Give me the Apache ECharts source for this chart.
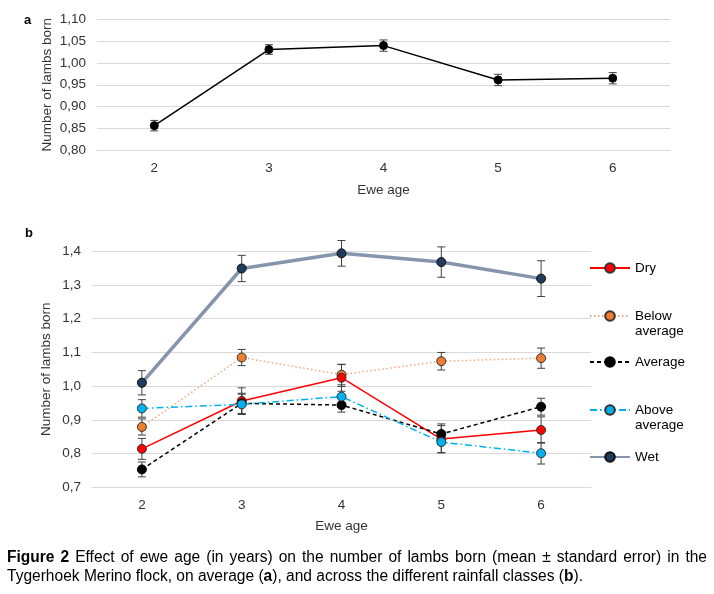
<!DOCTYPE html>
<html>
<head>
<meta charset="utf-8">
<script src="https://cdn.jsdelivr.net/npm/echarts@6/dist/echarts.min.js"></script>
<style>
html,body{margin:0;padding:0;background:#fff;}
#wrap{position:relative;width:714px;height:594px;overflow:hidden;}
#chart{position:absolute;left:0;top:0;width:714px;height:594px;}
.cap{position:absolute;left:7px;font-family:"Liberation Sans Narrow","Liberation Sans",Arial,sans-serif;font-size:16px;line-height:19px;color:#000;white-space:nowrap;transform-origin:0 0;}
#cap1{top:547px;width:700px;text-align:justify;text-align-last:justify;white-space:normal;}
#cap2{top:566px;}
</style>
</head>
<body>
<div id="wrap">
<div id="chart"></div>
<div class="cap" id="cap1"><b>Figure 2</b> Effect of ewe age (in years) on the number of lambs born (mean ± standard error) in the</div>
<div class="cap" id="cap2"><span id="cap2t">Tygerhoek Merino flock, on average (<b>a</b>), and across the different rainfall classes (<b>b</b>).</span></div>
</div>
<script>
// ---- data ----
const ages = ['2', '3', '4', '5', '6'];
const yTicksA = [0.80, 0.85, 0.90, 0.95, 1.00, 1.05, 1.10];
const yTicksB = [0.7, 0.8, 0.9, 1.0, 1.1, 1.2, 1.3, 1.4];

const overallMean = [0.856, 1.031, 1.040, 0.961, 0.965];
const overallErr  = [0.012, 0.011, 0.013, 0.013, 0.013];

const dryMean = [0.814, 0.956, 1.025, 0.843, 0.870];
const dryErr  = [0.031, 0.039, 0.040, 0.040, 0.039];
const belowMean = [0.879, 1.085, 1.034, 1.074, 1.083];
const belowErr  = [0.024, 0.024, 0.030, 0.026, 0.030];
const averageMean = [0.753, 0.949, 0.944, 0.858, 0.939];
const averageErr  = [0.022, 0.030, 0.021, 0.030, 0.025];
const aboveMean = [0.934, 0.946, 0.969, 0.834, 0.801];
const aboveErr  = [0.026, 0.030, 0.030, 0.032, 0.032];
const wetMean = [1.010, 1.349, 1.394, 1.368, 1.319];
const wetErr  = [0.036, 0.039, 0.038, 0.045, 0.053];

const seriesNames = ['Dry', 'Below\naverage', 'Average', 'Above\naverage', 'Wet'];

// ---- caption fit (layout only) ----
(function fitCaption() {
  const target = 576; // width of second caption line
  const w = document.getElementById('cap2t').getBoundingClientRect().width;
  const s = target / w;
  const c1 = document.getElementById('cap1');
  const c2 = document.getElementById('cap2');
  c1.style.width = (700 / s) + 'px';
  c1.style.transform = 'scaleX(' + s + ')';
  c2.style.transform = 'scaleX(' + s + ')';
})();

// ---- helpers ----
const FONT = '"Liberation Sans", Arial, sans-serif';
const TXT = '#333333';
function errData(mean, err) {
  return mean.map((m, i) => [i, m - err[i], m + err[i]]);
}
function errRender(params, api) {
  const x = api.value(0);
  const p1 = api.coord([x, api.value(1)]);
  const p2 = api.coord([x, api.value(2)]);
  const w = 4;
  const style = { stroke: '#404040', lineWidth: 1 };
  return {
    type: 'group',
    children: [
      { type: 'line', shape: { x1: p1[0], y1: p1[1], x2: p2[0], y2: p2[1] }, style: style },
      { type: 'line', shape: { x1: p1[0] - w, y1: p1[1], x2: p1[0] + w, y2: p1[1] }, style: style },
      { type: 'line', shape: { x1: p2[0] - w, y1: p2[1], x2: p2[0] + w, y2: p2[1] }, style: style }
    ]
  };
}
function errSeries(mean, err, idx) {
  return {
    type: 'custom', xAxisIndex: idx, yAxisIndex: idx,
    renderItem: errRender, data: errData(mean, err),
    encode: { x: 0, y: [1, 2] }, z: 2, silent: true
  };
}
function lineSeries(name, data, lineColor, lineWidth, lineType, fill, border) {
  return {
    name: name, type: 'line', xAxisIndex: 1, yAxisIndex: 1, data: data,
    symbol: 'circle', symbolSize: 9, z: 3,
    lineStyle: { color: lineColor, width: lineWidth, type: lineType },
    itemStyle: { color: fill, borderColor: border, borderWidth: 1 },
    emphasis: { disabled: true }
  };
}
function legendAt(name, top, twoLine) {
  return {
    data: [name], left: 589, top: top, padding: 0,
    itemWidth: 40, itemHeight: 12, itemGap: 0,
    selectedMode: false,
    formatter: twoLine ? (n => '\n' + n) : (n => n),
    textStyle: { fontFamily: FONT, fontSize: 13.5, color: '#000', lineHeight: 15 }
  };
}
const catAxis = (idx) => ({
  type: 'category', gridIndex: idx, data: ages, boundaryGap: true,
  name: 'Ewe age', nameLocation: 'middle', nameGap: idx === 0 ? 33 : 32,
  nameMoveOverlap: false,
  nameTextStyle: { fontFamily: FONT, fontSize: 13.5, color: TXT, verticalAlign: 'top' },
  axisLine: { show: true, lineStyle: { color: '#d9d9d9', width: 1 } },
  axisTick: { show: false },
  axisLabel: { fontFamily: FONT, fontSize: 13.5, color: TXT, margin: 11 },
  splitLine: { show: false }
});

const chart = echarts.init(document.getElementById('chart'));
chart.setOption({
  animation: false,
  backgroundColor: '#fff',
  title: [
    { text: 'a', left: 19, top: 9, textStyle: { fontFamily: FONT, fontSize: 13, fontWeight: 'bold', color: '#000' } },
    { text: 'b', left: 20, top: 222, textStyle: { fontFamily: FONT, fontSize: 13, fontWeight: 'bold', color: '#000' } }
  ],
  grid: [
    { left: 97, right: 44, top: 19.5, height: 130.5 },
    { left: 92, right: 123, top: 251.3, height: 236 }
  ],
  xAxis: [catAxis(0), catAxis(1)],
  yAxis: [
    {
      type: 'value', gridIndex: 0, min: yTicksA[0], max: yTicksA[yTicksA.length - 1], interval: 0.05,
      name: 'Number of lambs born', nameLocation: 'middle', nameGap: 43, nameRotate: 90,
      nameMoveOverlap: false,
      nameTextStyle: { fontFamily: FONT, fontSize: 13.5, color: TXT },
      axisLine: { show: false }, axisTick: { show: false },
      axisLabel: { fontFamily: FONT, fontSize: 13.5, color: TXT, margin: 11,
        formatter: v => v.toFixed(2).replace('.', ',') },
      splitLine: { lineStyle: { color: '#d9d9d9', width: 1 } }
    },
    {
      type: 'value', gridIndex: 1, min: yTicksB[0], max: yTicksB[yTicksB.length - 1], interval: 0.1,
      name: 'Number of lambs born', nameLocation: 'middle', nameGap: 39, nameRotate: 90,
      nameMoveOverlap: false,
      nameTextStyle: { fontFamily: FONT, fontSize: 13.5, color: TXT },
      axisLine: { show: false }, axisTick: { show: false },
      axisLabel: { fontFamily: FONT, fontSize: 13.5, color: TXT, margin: 11,
        formatter: v => v.toFixed(1).replace('.', ',') },
      splitLine: { lineStyle: { color: '#d9d9d9', width: 1 } }
    }
  ],
  legend: [
    legendAt(seriesNames[0], 260.5, false),
    legendAt(seriesNames[1], 293.5, true),
    legendAt(seriesNames[2], 354.5, false),
    legendAt(seriesNames[3], 387.5, true),
    legendAt(seriesNames[4], 449.5, false)
  ],
  series: [
    errSeries(overallMean, overallErr, 0),
    {
      type: 'line', xAxisIndex: 0, yAxisIndex: 0, data: overallMean,
      symbol: 'circle', symbolSize: 8, z: 3,
      lineStyle: { color: '#000', width: 1.5 },
      itemStyle: { color: '#000', borderColor: '#000', borderWidth: 1 },
      emphasis: { disabled: true }
    },
    errSeries(wetMean, wetErr, 1),
    errSeries(dryMean, dryErr, 1),
    errSeries(belowMean, belowErr, 1),
    errSeries(averageMean, averageErr, 1),
    errSeries(aboveMean, aboveErr, 1),
    lineSeries(seriesNames[4], wetMean, '#8595ab', 3.5, 'solid', '#1f3b5e', '#111'),
    lineSeries(seriesNames[1], belowMean, '#f4a77a', 1.5, [1.5, 2.5], '#ed7d31', '#333'),
    lineSeries(seriesNames[0], dryMean, '#ff0000', 1.5, 'solid', '#ff0000', '#333'),
    lineSeries(seriesNames[2], averageMean, '#000000', 1.5, [4, 3], '#000000', '#000'),
    lineSeries(seriesNames[3], aboveMean, '#00b0f0', 1.5, [7, 3, 1.5, 3], '#00b0f0', '#333')
  ]
});
</script>
</body>
</html>
